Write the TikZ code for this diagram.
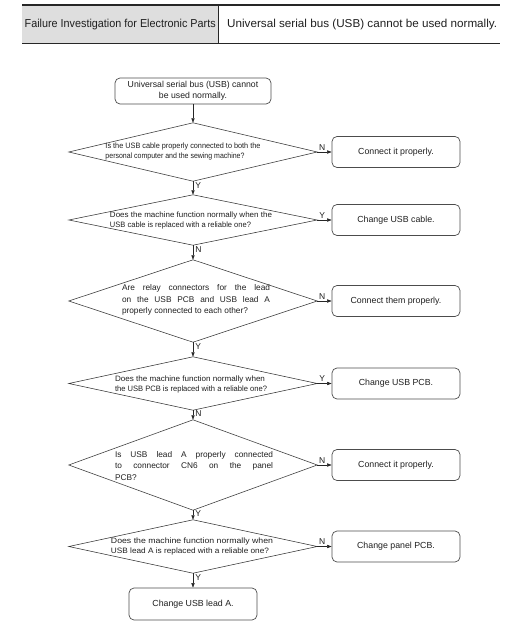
\documentclass[tikz,border=0pt]{standalone}
\usepackage{fontspec}
\setmainfont{Liberation Sans}
\usepackage{graphicx}
\usetikzlibrary{arrows.meta}
\newcommand{\fw}[2]{\resizebox{#1pt}{\height}{#2}}
\newcommand{\jw}[2]{\makebox[#1pt][s]{#2}}
\begin{document}
\begin{tikzpicture}[x=1pt,y=-1pt,
  every node/.style={inner sep=0pt, text=black!88},
  hline/.style={line width=1.6pt, draw=black!85},
  hcell/.style={minimum height=38pt, anchor=north west, font=\fontsize{11.5}{12}\selectfont},
  startbox/.style={draw=black!70, line width=0.7pt, rounded corners=5pt, minimum width=156pt, minimum height=26pt, font=\fontsize{8.7}{10.5}\selectfont, align=center},
  actbox/.style={draw=black!70, line width=0.7pt, rounded corners=5pt, minimum width=128pt, minimum height=31pt, font=\fontsize{8.8}{11}\selectfont},
  decbox/.style={minimum width=248pt},
  dtext/.style={font=\fontsize{7.8}{10}\selectfont, align=left},
  jtext/.style={font=\fontsize{8.3}{11.5}\selectfont, align=left},
  dline/.style={draw=black!80, line width=0.55pt},
  arr/.style={draw=black!85, line width=0.55pt, -{Triangle[length=4.5pt,width=3.2pt]}},
  yn/.style={font=\fontsize{8.5}{9}\selectfont, inner sep=1pt}
]
\useasboundingbox (0,0) rectangle (530,628);

% header
\node[hcell, fill=black!13, minimum width=196pt] (h1) at (22,5) {\fw{191}{Failure Investigation for Electronic Parts}};
\node[hcell, minimum width=282pt] (h2) at (218,5) {\hspace*{6pt}\fw{270}{Universal serial bus (USB) cannot be used normally.}};
\draw[hline] (h1.north west) -- (h2.north east);
\draw[hline] (h1.south west) -- (h2.south east);
\draw[line width=0.8pt, draw=black!85] (h1.north east) -- (h1.south east);

% start
\node[startbox] (s) at (193,91) {Universal serial bus (USB) cannot\\be used normally.};

% decisions (shapes)
\node[decbox, minimum height=58pt] (d1) at (193,152) {};
\node[decbox, minimum height=50pt] (d2) at (193,220) {};
\node[decbox, minimum height=82pt] (d3) at (193,301) {};
\node[decbox, minimum height=53pt] (d4) at (193,383.5) {};
\node[decbox, minimum height=90pt] (d5) at (193,465) {};
\node[decbox, minimum height=53pt] (d6) at (193,546.5) {};
\foreach \d in {d1,d2,d3,d4,d5,d6}
  \draw[dline] (\d.north) -- (\d.east) -- (\d.south) -- (\d.west) -- cycle;

% decision texts
\node[dtext] (t1) at (183,151.5) {\fw{155}{Is the USB cable properly connected to both the}\\\fw{139}{personal computer and the sewing machine?}};
\node[dtext] (t2) at (191,220) {\fw{162}{Does the machine function normally when the}\\\fw{141}{USB cable is replaced with a reliable one?}};
\node[jtext] (t3) at (196,300) {\jw{148}{Are relay connectors for the lead}\\\jw{148}{on the USB PCB and USB lead A}\\properly connected to each other?};
\node[dtext] (t4) at (191,384) {\fw{150}{Does the machine function normally when}\\\fw{152}{the USB PCB is replaced with a reliable one?}};
\node[jtext] (t5) at (194,466) {\jw{158}{Is USB lead A properly connected}\\\jw{158}{to connector CN6 on the panel}\\PCB?};
\node[dtext] (t6) at (192,546.5) {\fw{162}{Does the machine function normally when}\\\fw{158}{USB lead A is replaced with a reliable one?}};

% actions
\node[actbox] (r1) at (396,152) {Connect it properly.};
\node[actbox] (r2) at (396,220) {Change USB cable.};
\node[actbox] (r3) at (396,301) {Connect them properly.};
\node[actbox] (r4) at (396,383.5) {Change USB PCB.};
\node[actbox] (r5) at (396,465) {Connect it properly.};
\node[actbox] (r6) at (396,546.5) {Change panel PCB.};
\node[actbox, minimum height=32pt] (f) at (193,604) {Change USB lead A.};

% vertical connectors
\draw[arr] (s.south) -- (d1.north);
\draw[arr] (d1.south) -- node[yn, pos=0.3, right=1pt] {Y} (d2.north);
\draw[arr] (d2.south) -- node[yn, pos=0.3, right=1pt] {N} (d3.north);
\draw[arr] (d3.south) -- node[yn, pos=0.3, right=1pt] {Y} (d4.north);
\draw[arr] (d4.south) -- node[yn, pos=0.3, right=1pt] {N} (d5.north);
\draw[arr] (d5.south) -- node[yn, pos=0.3, right=1pt] {Y} (d6.north);
\draw[arr] (d6.south) -- node[yn, pos=0.3, right=1pt] {Y} (f.north);

% horizontal connectors
\draw[arr] (d1.east) -- node[yn, pos=0.35, above=0.5pt] {N} (r1.west);
\draw[arr] (d2.east) -- node[yn, pos=0.35, above=0.5pt] {Y} (r2.west);
\draw[arr] (d3.east) -- node[yn, pos=0.35, above=0.5pt] {N} (r3.west);
\draw[arr] (d4.east) -- node[yn, pos=0.35, above=0.5pt] {Y} (r4.west);
\draw[arr] (d5.east) -- node[yn, pos=0.35, above=0.5pt] {N} (r5.west);
\draw[arr] (d6.east) -- node[yn, pos=0.35, above=0.5pt] {N} (r6.west);
\end{tikzpicture}
\end{document}
